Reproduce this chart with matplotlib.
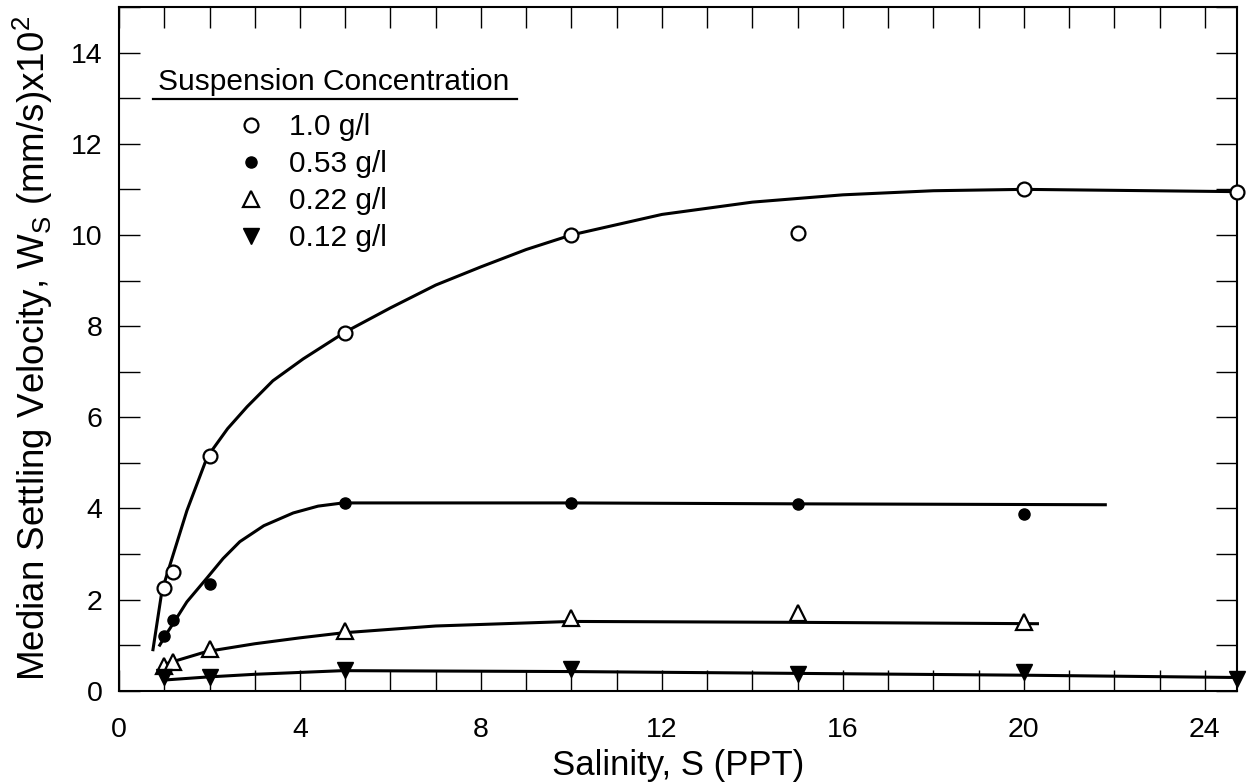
import matplotlib.pyplot as plt
from matplotlib.ticker import MultipleLocator

plt.rcParams['font.family'] = ['Liberation Sans', 'DejaVu Sans']
plt.rcParams['font.size'] = 20.5

# measured points, salinity (PPT) vs median settling velocity (x10^2 mm/s)
sal_10 = [1.0, 1.2, 2.0, 5.0, 10.0, 15.0, 20.0, 24.7]
ws_10 = [2.25, 2.6, 5.15, 7.85, 10.0, 10.05, 11.0, 10.95]
sal_053 = [1.0, 1.2, 2.0, 5.0, 10.0, 15.0, 20.0]
ws_053 = [1.2, 1.55, 2.35, 4.12, 4.12, 4.1, 3.87]
sal_022 = [1.0, 1.2, 2.0, 5.0, 10.0, 15.0, 20.0]
ws_022 = [0.55, 0.62, 0.92, 1.3, 1.6, 1.7, 1.5]
sal_012 = [1.0, 2.0, 5.0, 10.0, 15.0, 20.0, 24.7]
ws_012 = [0.3, 0.3, 0.45, 0.47, 0.37, 0.42, 0.25]

# hand-drawn fit curves
fit_x_10 = [0.75, 0.95, 1.17, 1.5, 1.95, 2.4, 2.83, 3.4, 4.07, 5.0, 6.0, 7.0, 8.0, 9.0, 10.0, 12.0, 14.0, 16.0, 18.0, 20.0, 24.7]
fit_y_10 = [0.9, 2.2, 2.9, 3.95, 5.13, 5.75, 6.23, 6.8, 7.28, 7.87, 8.4, 8.9, 9.3, 9.68, 10.0, 10.45, 10.72, 10.88, 10.97, 11.0, 10.95]
fit_x_053 = [0.9, 1.05, 1.2, 1.5, 1.95, 2.3, 2.67, 3.2, 3.85, 4.4, 4.95, 10.0, 15.0, 21.8]
fit_y_053 = [1.0, 1.25, 1.48, 1.95, 2.48, 2.9, 3.27, 3.62, 3.9, 4.05, 4.12, 4.12, 4.1, 4.08]
fit_x_022 = [0.97, 1.2, 1.94, 3.0, 4.0, 4.95, 7.0, 10.0, 15.0, 20.3]
fit_y_022 = [0.57, 0.64, 0.86, 1.03, 1.16, 1.27, 1.42, 1.52, 1.5, 1.47]
fit_x_012 = [1.08, 1.94, 3.0, 4.95, 10.0, 15.0, 20.0, 24.7]
fit_y_012 = [0.24, 0.3, 0.36, 0.44, 0.42, 0.38, 0.34, 0.29]

fig = plt.figure(figsize=(12.49, 7.84), dpi=100)
ax = fig.add_axes([0.0953, 0.119, 0.8947, 0.872])

lw = 2.2
ax.plot(fit_x_10, fit_y_10, color='black', lw=lw, zorder=2)
ax.plot(fit_x_053, fit_y_053, color='black', lw=lw, zorder=2)
ax.plot(fit_x_022, fit_y_022, color='black', lw=lw, zorder=2)
ax.plot(fit_x_012, fit_y_012, color='black', lw=lw, zorder=2)

ax.plot(sal_10, ws_10, 'o', ms=10, mfc='white', mec='black', mew=1.6, clip_on=False, zorder=3, label='1.0 g/l')
ax.plot(sal_053, ws_053, 'o', ms=8, mfc='black', mec='black', clip_on=False, zorder=3, label='0.53 g/l')
ax.plot(sal_022, ws_022, '^', ms=12, mfc='white', mec='black', mew=1.6, clip_on=False, zorder=3, label='0.22 g/l')
ax.plot(sal_012, ws_012, 'v', ms=11, mfc='black', mec='black', clip_on=False, zorder=3, label='0.12 g/l')

ax.set_xlim(0, 24.7)
ax.set_ylim(0, 15)
ax.xaxis.set_major_locator(MultipleLocator(4))
ax.xaxis.set_minor_locator(MultipleLocator(1))
ax.yaxis.set_major_locator(MultipleLocator(2))
ax.yaxis.set_minor_locator(MultipleLocator(1))
ax.tick_params(which='both', direction='in', length=15, width=1, top=True, right=True)
ax.tick_params(axis='x', which='major', pad=19)
ax.tick_params(axis='y', which='major', pad=12)
for s in ax.spines.values():
    s.set_linewidth(1.5)

ax.set_xlabel('Salinity, S (PPT)', fontsize=25, labelpad=4)
ax.set_ylabel('Median Settling Velocity, W$_\\mathregular{S}$ (mm/s)x10$^\\mathregular{2}$',
              fontsize=26.5, labelpad=11)

# legend: title + underline drawn separately
ax.text(0.192, 0.890, 'Suspension Concentration', fontsize=21.5, ha='center', va='center',
        transform=ax.transAxes)
ax.plot([0.030, 0.356], [0.8655, 0.8655], color='black', lw=1.6, transform=ax.transAxes, clip_on=False)
ax.legend(loc='upper left', bbox_to_anchor=(0.091, 0.862), frameon=False, fontsize=21.5,
          handletextpad=0.7, labelspacing=0.3, handlelength=1.2, borderpad=0.4, borderaxespad=0)

fig.savefig('out.png', dpi=100)
